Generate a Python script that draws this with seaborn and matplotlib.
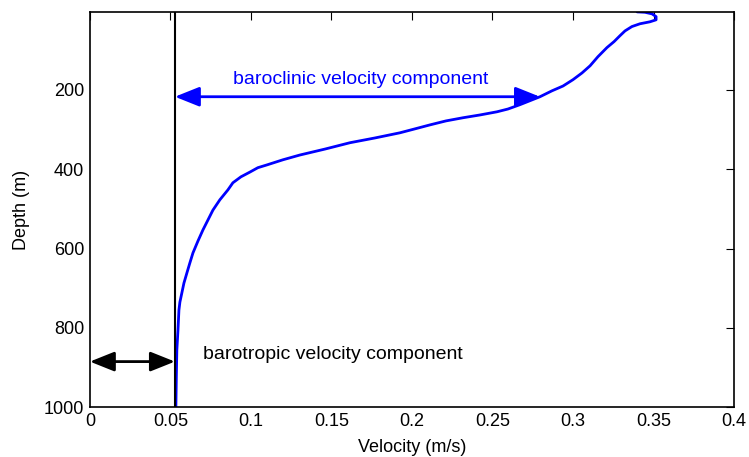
import numpy as np
import pandas as pd
import seaborn as sns
import matplotlib.pyplot as plt

# velocity profile (m/s vs depth in m)
velocity = [0.3398, 0.3447, 0.3491, 0.3516, 0.3516, 0.3478, 0.3416, 0.3366, 0.3323, 0.3292,
            0.3255, 0.3211, 0.3155, 0.3106, 0.3056, 0.3000, 0.2938, 0.2870, 0.2795, 0.2733,
            0.2671, 0.2596, 0.2528, 0.2422, 0.2317, 0.2211, 0.2112, 0.2019, 0.1925, 0.1770,
            0.1615, 0.1460, 0.1304, 0.1199, 0.1099, 0.1043, 0.0994, 0.0938, 0.0888, 0.0857,
            0.0807, 0.0764, 0.0733, 0.0702, 0.0671, 0.0640, 0.0621, 0.0602, 0.0584, 0.0571,
            0.0559, 0.0553, 0.0547, 0.0540, 0.0537, 0.0534]
depth = [3, 4, 8, 15, 23, 28, 33, 40, 51, 63,
         78, 93, 116, 139, 157, 174, 190, 202, 217, 227,
         237, 248, 255, 263, 270, 278, 288, 298, 308, 321,
         333, 349, 364, 376, 389, 396, 407, 419, 434, 452,
         477, 503, 528, 553, 581, 611, 636, 662, 687, 712,
         735, 755, 806, 856, 919, 1000]

barotropic = 0.0528
baroclinic_depth = 217
baroclinic_end = 0.2795
barotropic_depth = 885

x_ticks = [0, 0.05, 0.1, 0.15, 0.2, 0.25, 0.3, 0.35, 0.4]
x_tick_labels = ["0", "0.05", "0.1", "0.15", "0.2", "0.25", "0.3", "0.35", "0.4"]
y_ticks = [200, 400, 600, 800, 1000]

profile = pd.DataFrame({"velocity": velocity, "depth": depth})

sns.set_style("white")
plt.rcParams["font.family"] = ["Liberation Sans", "DejaVu Sans"]
plt.rcParams["font.size"] = 13

fig = plt.figure(figsize=(7.49, 4.57), dpi=100)
ax = fig.add_axes([0.120, 0.109, 0.860, 0.865])

sns.lineplot(data=profile, x="velocity", y="depth", sort=False, estimator=None,
             color="#0000ff", linewidth=2, ax=ax)
ax.axvline(barotropic, color="black", linewidth=1.5)

arrow = "<|-|>,head_length=0.75,head_width=0.3"

# baroclinic arrow
ax.annotate("", xy=(barotropic, baroclinic_depth), xytext=(baroclinic_end, baroclinic_depth),
            arrowprops=dict(arrowstyle=arrow, color="#0000ff", lw=2,
                            shrinkA=0, shrinkB=0, mutation_scale=20))
ax.text(0.168, 174, "baroclinic velocity component", color="#0000ff",
        ha="center", va="center", fontsize=14)

# barotropic arrow
ax.annotate("", xy=(0, barotropic_depth), xytext=(barotropic, barotropic_depth),
            arrowprops=dict(arrowstyle=arrow, color="black", lw=2,
                            shrinkA=0, shrinkB=0, mutation_scale=20))
ax.text(0.070, 868, "barotropic velocity component", color="black",
        ha="left", va="center", fontsize=14)

ax.set_xlim(0, 0.4)
ax.set_ylim(1000, 3)
ax.set_xticks(x_ticks)
ax.set_xticklabels(x_tick_labels)
ax.set_yticks(y_ticks)
ax.tick_params(direction="in", length=6, width=0.8, top=True, right=True,
               labelsize=13, colors="black", pad=4)
for s in ax.spines.values():
    s.set_color("black")
    s.set_linewidth(1.2)

ax.set_xlabel("Velocity (m/s)", fontsize=13, labelpad=7, color="black")
ax.set_ylabel("Depth (m)", fontsize=13, labelpad=10, color="black")

plt.savefig("out.png", dpi=100)
